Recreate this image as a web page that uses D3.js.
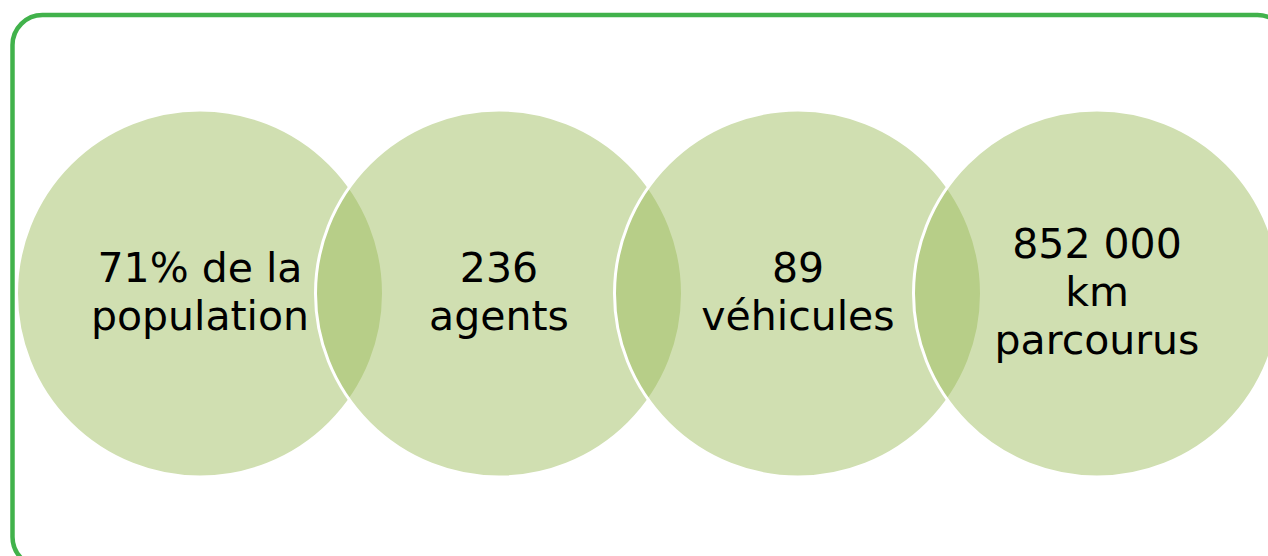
<!DOCTYPE html>
<html>
<head>
<meta charset="utf-8">
<script src="https://cdn.jsdelivr.net/npm/d3@7"></script>
<style>
  body { margin: 0; background: #fff; overflow: hidden; }
</style>
</head>
<body>
<div id="chart"></div>
<script>
// key figures, one circle each
var keys = ["population", "agents", "vehicules", "km"];
var labels = [
    ["71% de la", "population"],
    ["236", "agents"],
    ["89", "véhicules"],
    ["852 000", "km", "parcourus"]
];

function init() {
    var w = 1268;
    var h = 556;
    var r = 183.5;
    var cy = 293.5;
    var lineH = 48;

    var svg = d3.select("#chart")
                .append("svg")
                .attr("width", w)
                .attr("height", h);

    // green frame
    svg.append("rect")
        .attr("x", 12.5)
        .attr("y", 15)
        .attr("width", 1275)
        .attr("height", 552)
        .attr("rx", 30)
        .attr("fill", "none")
        .attr("stroke", "#41b24b")
        .attr("stroke-width", 4.5);

    var x = d3.scalePoint()
                .domain(keys)
                .range([200, 1097]);

    svg.selectAll("circle")
        .data(keys)
        .enter()
        .append("circle")
        .attr("cx", function(d) { return x(d); })
        .attr("cy", cy)
        .attr("r", r)
        .attr("fill", "#9bbb59")
        .attr("fill-opacity", 0.47)
        .attr("stroke", "#fff")
        .attr("stroke-width", 3);

    var txt = svg.selectAll("text.lbl")
        .data(keys)
        .enter()
        .append("text")
        .attr("class", "lbl")
        .attr("text-anchor", "middle")
        .style("font-family", "'DejaVu Sans', sans-serif")
        .style("font-size", "41px")
        .style("fill", "#000");

    txt.each(function(d, i) {
        var lines = labels[i];
        var t = d3.select(this);
        lines.forEach(function(s, j) {
            t.append("tspan")
                .attr("x", x(d))
                .attr("y", cy + (j - (lines.length - 1) / 2) * lineH + 12)
                .text(s);
        });
    });
}

window.onload = init;
</script>
</body>
</html>
